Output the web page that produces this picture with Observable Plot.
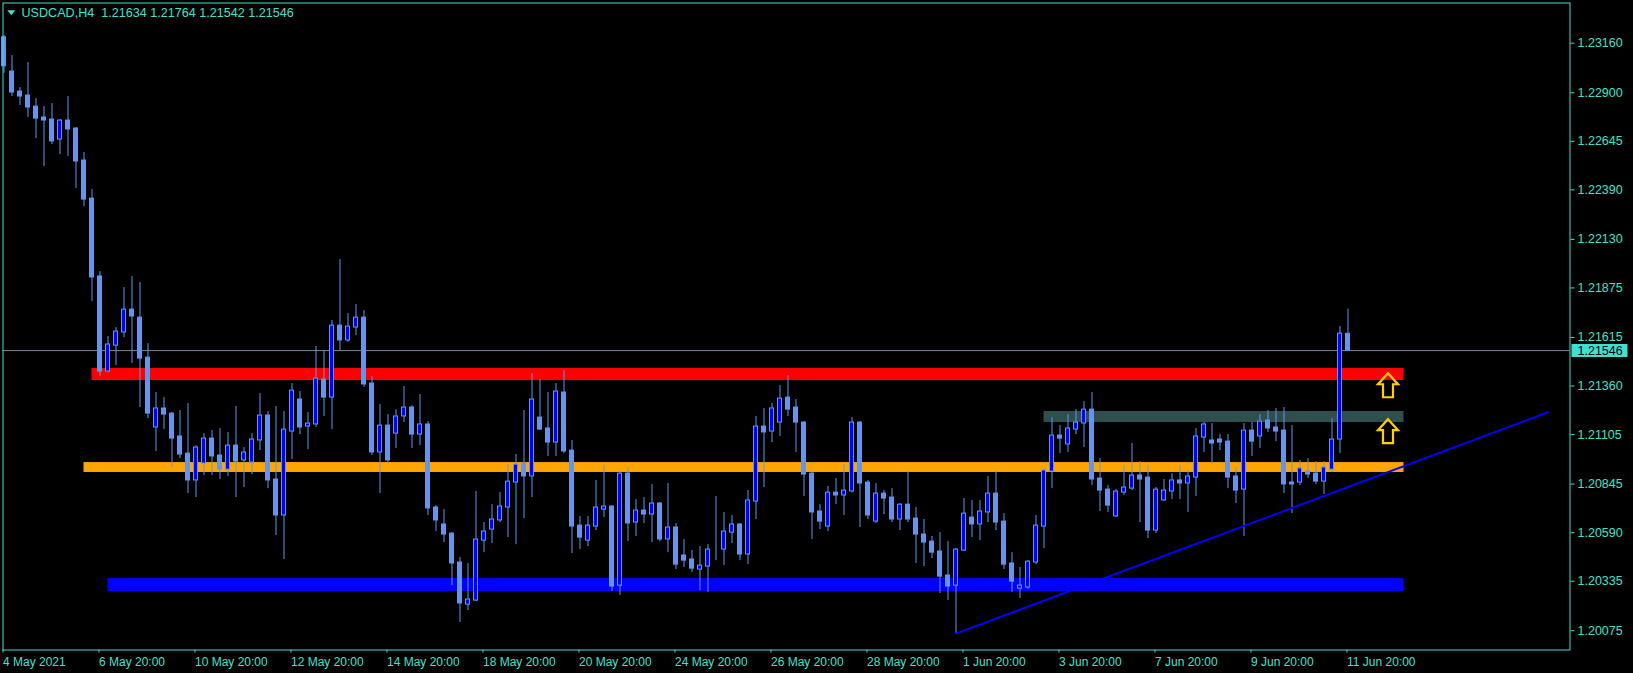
<!DOCTYPE html>
<html><head><meta charset="utf-8">
<script src="https://cdn.jsdelivr.net/npm/d3@7"></script>
<script src="https://cdn.jsdelivr.net/npm/@observablehq/plot@0.6"></script>
<style>html,body{margin:0;padding:0;background:#000;overflow:hidden}</style>
</head><body><div id="chart"></div>
<script>
const symbolName = "USDCAD";
const timeframe = "H4";

// OHLC of each H4 bar (bar index 0 = 4 May 2021 20:00)
const open = [1.23191,1.23011,1.22906,1.22885,1.22827,1.22770,1.22759,1.22654,1.22754,1.22712,1.22544,1.22344,1.21935,1.21436,1.21572,1.21641,1.21761,1.21719,1.21509,1.21142,1.21242,1.21215,1.21095,1.21005,1.20864,1.20953,1.21084,1.20995,1.20921,1.21047,1.20969,1.20958,1.21074,1.21205,1.20869,1.20680,1.21121,1.21289,1.21147,1.21158,1.21394,1.21299,1.21677,1.21599,1.21667,1.21719,1.21373,1.21011,1.21152,1.21110,1.21200,1.21247,1.21105,1.21158,1.20722,1.20633,1.20585,1.20433,1.20212,1.20233,1.20548,1.20606,1.20654,1.20722,1.20853,1.20953,1.20885,1.21194,1.21137,1.21063,1.21326,1.21021,1.20627,1.20548,1.20622,1.20711,1.20727,1.20312,1.20900,1.20643,1.20706,1.20685,1.20743,1.20554,1.20617,1.20470,1.20449,1.20396,1.20412,1.20506,1.20501,1.20590,1.20633,1.20475,1.20753,1.21147,1.21121,1.21168,1.21299,1.21247,1.21168,1.20900,1.20701,1.20622,1.20800,1.20785,1.20806,1.21168,1.20853,1.20648,1.20795,1.20774,1.20659,1.20737,1.20664,1.20580,1.20543,1.20491,1.20365,1.20312,1.20496,1.20669,1.20633,1.20696,1.20795,1.20648,1.20428,1.20296,1.20302,1.20433,1.20622,1.20911,1.21100,1.21053,1.21131,1.21163,1.21236,1.20874,1.20816,1.20675,1.20800,1.20821,1.20890,1.20879,1.20601,1.20759,1.20806,1.20864,1.20848,1.20879,1.21089,1.21074,1.21079,1.21068,1.20885,1.20816,1.21126,1.21095,1.21179,1.21142,1.21126,1.20853,1.20853,1.20911,1.20900,1.20858,1.20921,1.21079,1.21634];
const high = [1.23200,1.23095,1.22927,1.23058,1.22869,1.22827,1.22843,1.22759,1.22880,1.22717,1.22586,1.22392,1.21961,1.21620,1.21667,1.21877,1.21935,1.21903,1.21583,1.21326,1.21299,1.21221,1.21231,1.21268,1.21047,1.21110,1.21126,1.21137,1.21116,1.21252,1.21037,1.21110,1.21320,1.21226,1.21252,1.21226,1.21373,1.21331,1.21221,1.21567,1.21541,1.21704,1.22024,1.21740,1.21788,1.21756,1.21410,1.21263,1.21210,1.21236,1.21357,1.21257,1.21315,1.21173,1.20732,1.20711,1.20590,1.20459,1.20428,1.20806,1.20643,1.20737,1.20800,1.20947,1.21000,1.21231,1.21425,1.21394,1.21326,1.21373,1.21441,1.21074,1.20675,1.20675,1.20864,1.20942,1.20732,1.20911,1.20932,1.20764,1.20774,1.20843,1.20748,1.20848,1.20638,1.20554,1.20496,1.20517,1.20527,1.20780,1.20696,1.20680,1.20638,1.20811,1.21200,1.21242,1.21268,1.21362,1.21415,1.21289,1.21173,1.20906,1.20737,1.20832,1.20874,1.20947,1.21194,1.21173,1.20864,1.20848,1.20811,1.20821,1.20743,1.20911,1.20722,1.20659,1.20570,1.20590,1.20543,1.20506,1.20769,1.20759,1.20759,1.20885,1.20911,1.20690,1.20485,1.20407,1.20443,1.20680,1.20927,1.21194,1.21152,1.21210,1.21236,1.21278,1.21326,1.20979,1.20837,1.20816,1.20942,1.21058,1.20963,1.20942,1.20827,1.20869,1.20900,1.20942,1.20916,1.21137,1.21168,1.21163,1.21105,1.21105,1.20932,1.21163,1.21168,1.21210,1.21231,1.21242,1.21247,1.21152,1.20969,1.20979,1.20963,1.20963,1.21189,1.21672,1.21764];
const low = [1.23002,1.22880,1.22833,1.22770,1.22659,1.22512,1.22628,1.22575,1.22565,1.22397,1.22302,1.21803,1.21410,1.21431,1.21467,1.21614,1.21478,1.21247,1.21189,1.21016,1.21131,1.20932,1.20979,1.20795,1.20774,1.20890,1.20890,1.20869,1.20885,1.20774,1.20827,1.20895,1.21021,1.20821,1.20575,1.20449,1.20974,1.21105,1.21026,1.21142,1.21200,1.21131,1.21546,1.21588,1.21625,1.21352,1.20995,1.20795,1.20953,1.21032,1.21168,1.21032,1.21047,1.20680,1.20596,1.20538,1.20312,1.20118,1.20181,1.20228,1.20485,1.20533,1.20643,1.20564,1.20527,1.20664,1.20774,1.21126,1.20990,1.20990,1.21005,1.20480,1.20501,1.20517,1.20601,1.20669,1.20281,1.20260,1.20543,1.20570,1.20638,1.20538,1.20543,1.20485,1.20396,1.20407,1.20380,1.20286,1.20275,1.20443,1.20417,1.20533,1.20443,1.20422,1.20659,1.20827,1.21063,1.21095,1.21200,1.21011,1.20780,1.20554,1.20606,1.20596,1.20737,1.20680,1.20800,1.20617,1.20659,1.20638,1.20685,1.20643,1.20601,1.20643,1.20428,1.20412,1.20454,1.20270,1.20233,1.20060,1.20491,1.20564,1.20548,1.20643,1.20601,1.20396,1.20275,1.20244,1.20291,1.20422,1.20506,1.20821,1.21005,1.21011,1.21105,1.21037,1.20837,1.20701,1.20696,1.20669,1.20785,1.20811,1.20643,1.20559,1.20585,1.20753,1.20764,1.20764,1.20696,1.20780,1.21011,1.20947,1.21021,1.20821,1.20743,1.20570,1.20990,1.21032,1.21116,1.21068,1.20795,1.20690,1.20837,1.20874,1.20843,1.20790,1.20906,1.21005,1.21542];
const close = [1.23039,1.22901,1.22880,1.22822,1.22764,1.22754,1.22644,1.22754,1.22707,1.22539,1.22339,1.21930,1.21436,1.21578,1.21646,1.21761,1.21725,1.21504,1.21215,1.21242,1.21210,1.21084,1.21000,1.20864,1.21037,1.21084,1.20990,1.20921,1.21047,1.20963,1.21011,1.21079,1.21205,1.20864,1.20680,1.21131,1.21336,1.21142,1.21163,1.21399,1.21299,1.21677,1.21599,1.21672,1.21719,1.21368,1.21011,1.21152,1.20969,1.21200,1.21247,1.21105,1.21158,1.20717,1.20654,1.20580,1.20428,1.20218,1.20239,1.20554,1.20596,1.20659,1.20727,1.20858,1.20947,1.20885,1.21289,1.21131,1.21063,1.21331,1.21016,1.20622,1.20564,1.20627,1.20722,1.20727,1.20307,1.20900,1.20638,1.20706,1.20685,1.20743,1.20554,1.20617,1.20422,1.20443,1.20401,1.20417,1.20501,1.20506,1.20596,1.20633,1.20475,1.20759,1.21147,1.21116,1.21242,1.21294,1.21236,1.21168,1.20895,1.20696,1.20648,1.20800,1.20785,1.20811,1.21168,1.20848,1.20680,1.20795,1.20769,1.20659,1.20737,1.20659,1.20580,1.20538,1.20485,1.20359,1.20307,1.20501,1.20690,1.20633,1.20701,1.20795,1.20643,1.20422,1.20333,1.20312,1.20438,1.20627,1.20916,1.21100,1.21084,1.21137,1.21168,1.21236,1.20869,1.20811,1.20732,1.20806,1.20827,1.20890,1.20869,1.20601,1.20816,1.20811,1.20864,1.20848,1.20885,1.21095,1.21158,1.21058,1.21063,1.20879,1.20811,1.21126,1.21068,1.21173,1.21137,1.21121,1.20843,1.20843,1.20927,1.20895,1.20858,1.20932,1.21079,1.21635,1.21546];

// time axis
const timeTickBars = [0,12,24,36,48,60,72,84,96,108,120,132,144,156,168];
const timeTickLabels = ["4 May 2021","6 May 20:00","10 May 20:00","12 May 20:00","14 May 20:00","18 May 20:00","20 May 20:00","24 May 20:00","26 May 20:00","28 May 20:00","1 Jun 20:00","3 Jun 20:00","7 Jun 20:00","9 Jun 20:00","11 Jun 20:00"];
// price axis
const priceTicks = [1.23160,1.22900,1.22645,1.22390,1.22130,1.21875,1.21615,1.21360,1.21105,1.20845,1.20590,1.20335,1.20075];

// drawn objects
const zoneNames = ["Resistance","Range high","Pivot","Support"];
const zoneFromBar = [11,130,10,13];
const zoneToBar = [175,175,175,175];
const zoneTop = [1.21452,1.21226,1.20958,1.20349];
const zoneBottom = [1.21389,1.21168,1.20906,1.20281];
const trendBars = [119,193];
const trendPrices = [1.20060,1.21222];
const arrowBars = [173,173];
const arrowPrices = [1.21364,1.21123];

// ---- build tables ----
const candles = open.map((o,i)=>({i, open:o, high:high[i], low:low[i], close:close[i]}));
const zones = zoneNames.map((n,k)=>({name:n, from:zoneFromBar[k], to:zoneToBar[k], top:zoneTop[k], bottom:zoneBottom[k]}));
const trend = trendBars.map((b,k)=>({i:b, p:trendPrices[k]}));
const arrows = arrowBars.map((b,k)=>({i:b, p:arrowPrices[k]}));
const last = candles[candles.length-1];
const fmt = d => d.toFixed(5);

const zoneColor = {"Resistance":"#FF0000","Range high":"#2F4F4F","Pivot":"#FFA500","Support":"#0000FF"};
const TURQ = "#40E0D0";
const BULL = "#0000FF", BEAR = "#6495ED";

const upArrow = {draw(ctx){
  ctx.moveTo(0,-12); ctx.lineTo(10,-1); ctx.lineTo(5,-1); ctx.lineTo(5,12);
  ctx.lineTo(-5,12); ctx.lineTo(-5,-1); ctx.lineTo(-10,-1); ctx.closePath();
}};
const priceBox = {draw(ctx){ ctx.rect(1.5,-6.5,56,13); }};
const downTri = {draw(ctx){ ctx.moveTo(-4,-2.5); ctx.lineTo(4,-2.5); ctx.lineTo(0,2.5); ctx.closePath(); }};

const title = `${symbolName},${timeframe}\u00a0\u00a0${[last.open,last.high,last.low,last.close].map(fmt).join(" ")}`;

const chart = Plot.plot({
  width: 1633, height: 673,
  marginLeft: 2.5, marginRight: 63.5, marginTop: 2.5, marginBottom: 23.5,
  style: {background:"#000", color: TURQ, fontFamily:"'Liberation Sans', Arial, sans-serif", fontSize:"12px"},
  x: {domain:[-0.125, 195.75], label:null},
  y: {domain:[1.199738, 1.233711], label:null},
  color: {type:"identity"},
  marks: [
    Plot.rect(zones, {x1:"from", x2:"to", y1:"bottom", y2:"top", fill: d => zoneColor[d.name]}),
    Plot.ruleY([last.close], {stroke:"#778899", strokeWidth:1}),
    Plot.ruleX(candles, {x:"i", y1:"low", y2:"high", stroke: BEAR, strokeWidth:1}),
    Plot.rect(candles, {x1:"i", x2:"i", y1:"open", y2:"close", insetLeft:-2, insetRight:-2,
      fill: d => d.close > d.open ? BULL : BEAR, stroke: BEAR, strokeWidth:1}),
    Plot.line(trend, {x:"i", y:"p", stroke:"#0000FF", strokeWidth:2}),
    Plot.dot(arrows, {x:"i", y:"p", symbol: upArrow, r:10, fill:"none", stroke:"#FFD000", strokeWidth:2.2}),
    Plot.frame({stroke: TURQ}),
    Plot.axisY({anchor:"right", ticks: priceTicks, tickFormat: fmt, tickSize:4, tickPadding:3.5, fontSize:12.5}),
    Plot.axisX({anchor:"bottom", ticks: timeTickBars, tickFormat: d => timeTickLabels[timeTickBars.indexOf(d)],
      tickSize:3, tickPadding:4, textAnchor:"start", dx:-1, fontSize:12}),
    Plot.dot([last.close], {y: d=>d, frameAnchor:"right", symbol: priceBox, r:5, fill: TURQ, stroke:"none"}),
    Plot.text([last.close], {y: d=>d, frameAnchor:"right", text: fmt, textAnchor:"start", dx:7.5, fill:"#000", fontSize:12.5}),
    Plot.dot([0], {frameAnchor:"top-left", dx:8.3, dy:9.8, symbol: downTri, r:4, fill: TURQ, stroke:"none"}),
    Plot.text([title], {frameAnchor:"top-left", text: d=>d, dx:18.5, dy:5.4, textAnchor:"start", fill: TURQ, fontSize:12.6})
  ]
});
document.getElementById("chart").appendChild(chart);
</script>
</body></html>
